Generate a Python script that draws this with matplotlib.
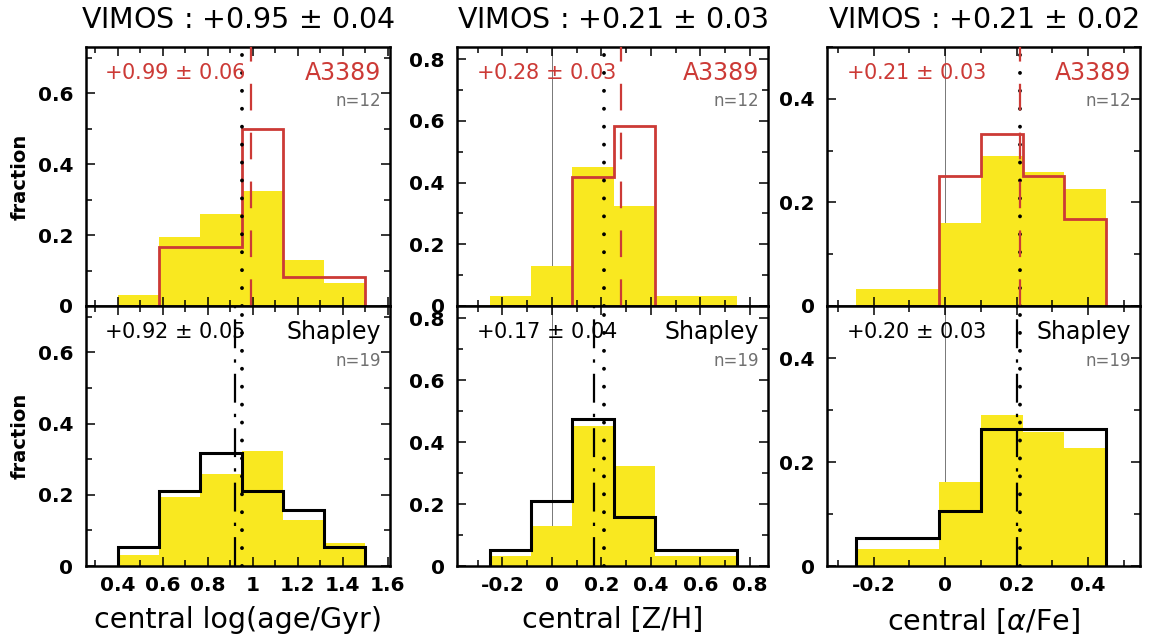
import numpy as np
import matplotlib.pyplot as plt
from matplotlib.ticker import MultipleLocator, FormatStrFormatter

plt.rcParams['font.family'] = ['DejaVu Sans']

# bin edges of the three quantities
age_edges = [0.4, 0.583, 0.767, 0.95, 1.133, 1.317, 1.5]
zh_edges = [-0.25, -0.083, 0.083, 0.25, 0.417, 0.583, 0.75]
afe_edges = [-0.25, -0.133, -0.017, 0.1, 0.217, 0.333, 0.45]

# fractions per bin
vimos_age = [0.032, 0.194, 0.258, 0.323, 0.129, 0.065]
a3389_age = [0.0, 0.167, 0.167, 0.5, 0.083, 0.083]
shapley_age = [0.053, 0.211, 0.316, 0.211, 0.158, 0.053]

vimos_zh = [0.032, 0.129, 0.452, 0.323, 0.032, 0.032]
a3389_zh = [0.0, 0.0, 0.417, 0.583, 0.0, 0.0]
shapley_zh = [0.053, 0.211, 0.474, 0.158, 0.053, 0.053]

vimos_afe = [0.032, 0.032, 0.161, 0.290, 0.258, 0.226]
a3389_afe = [0.0, 0.0, 0.25, 0.333, 0.25, 0.167]
shapley_afe = [0.053, 0.053, 0.105, 0.263, 0.263, 0.263]

# means and errors
vimos_mean = [0.95, 0.21, 0.21]
vimos_err = [0.04, 0.03, 0.02]
a3389_mean = [0.99, 0.28, 0.21]
a3389_err = [0.06, 0.03, 0.03]
shapley_mean = [0.92, 0.17, 0.20]
shapley_err = [0.05, 0.04, 0.03]
n_a3389 = 12
n_shapley = 19

xlabels = ['central log(age/Gyr)', 'central [Z/H]', r'central [$\alpha$/Fe]']
xlims = [(0.258, 1.61), (-0.384, 0.874), (-0.33, 0.545)]
ylims = [(0, 0.73), (0, 0.84), (0, 0.5)]

edges = [age_edges, zh_edges, afe_edges]
vimos = [vimos_age, vimos_zh, vimos_afe]
a3389 = [a3389_age, a3389_zh, a3389_afe]
shapley = [shapley_age, shapley_zh, shapley_afe]

yellow = '#f9e820'
red = '#cc3a36'

W, H = 1151, 644
fig = plt.figure(figsize=(W / 100, H / 100), dpi=100)
lefts = [86, 457, 827]
rights = [390, 768, 1140]
rows = [(47, 306), (306, 566)]

for c in range(3):
    for r in range(2):
        top, bot = rows[r]
        ax = fig.add_axes([lefts[c] / W, 1 - bot / H,
                           (rights[c] - lefts[c]) / W, (bot - top) / H])
        e = np.array(edges[c])
        ax.bar(e[:-1], vimos[c], width=np.diff(e), align='edge',
               color=yellow, lw=0, zorder=1)
        if c > 0:
            ax.axvline(0, color='#777777', lw=0.7, zorder=0.5)
        ax.axvline(vimos_mean[c], color='k', lw=2.8,
                   ls=(0, (0.01, 4.6)), dash_capstyle='round', zorder=3)
        if r == 0:
            ax.stairs(a3389[c], e, baseline=0, color=red, lw=2.0, zorder=2)
            ax.axvline(a3389_mean[c], color=red, lw=1.6,
                       ls=(0, (12, 10)), zorder=4)
            col = red
            txt = '+%.2f $\\pm$ %.2f' % (a3389_mean[c], a3389_err[c])
            name, n = 'A3389', n_a3389
        else:
            ax.stairs(shapley[c], e, baseline=0, color='k', lw=2.2, zorder=2)
            ax.axvline(shapley_mean[c], color='k', lw=1.6,
                       ls=(0, (13, 5, 1.5, 5)), zorder=4)
            col = 'k'
            txt = '+%.2f $\\pm$ %.2f' % (shapley_mean[c], shapley_err[c])
            name, n = 'Shapley', n_shapley

        ax.text(0.06, 0.9, txt, transform=ax.transAxes, color=col,
                fontsize=15, ha='left', va='center', zorder=5)
        ax.text(0.972, 0.9, name, transform=ax.transAxes, color=col,
                fontsize=17, ha='right', va='center', zorder=5)
        ax.text(0.972, 0.79, 'n=%d' % n, transform=ax.transAxes,
                color='#707070', fontsize=12, ha='right', va='center', zorder=5)

        ax.set_xlim(xlims[c])
        ax.set_ylim(ylims[c])
        ax.xaxis.set_major_locator(MultipleLocator(0.2))
        ax.xaxis.set_minor_locator(MultipleLocator(0.1))
        ax.yaxis.set_major_locator(MultipleLocator(0.2))
        ax.yaxis.set_minor_locator(MultipleLocator(0.1))
        ax.xaxis.set_major_formatter(FormatStrFormatter('%g'))
        ax.yaxis.set_major_formatter(FormatStrFormatter('%g'))
        ax.tick_params(which='both', direction='in', top=True, right=True,
                       width=1.1, labelsize=14.5)
        ax.tick_params(which='major', length=6.5)
        ax.tick_params(which='minor', length=4)
        ax.tick_params(axis='y', pad=9)
        ax.tick_params(axis='x', pad=7)
        for lab in ax.get_xticklabels() + ax.get_yticklabels():
            lab.set_fontweight('bold')
        for s in ax.spines.values():
            s.set_linewidth(1.8)

        if r == 0:
            ax.tick_params(labelbottom=False)
            ax.text(0.5, 1 + 27 / 259, 'VIMOS : +%.2f $\\pm$ %.2f'
                    % (vimos_mean[c], vimos_err[c]), transform=ax.transAxes,
                    fontsize=20.5, ha='center', va='center')
        else:
            ax.set_xlabel(xlabels[c], fontsize=20.5, labelpad=8)
        if c == 0:
            ax.set_ylabel('fraction', fontsize=14, fontweight='bold')
            ax.yaxis.set_label_coords(-0.185, 0.5)

plt.savefig('out.png', dpi=100)
